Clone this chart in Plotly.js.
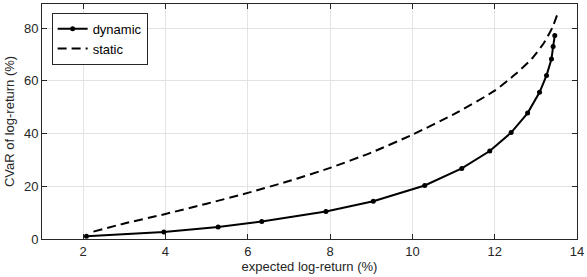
<!DOCTYPE html>
<html>
<head>
<meta charset="utf-8">
<script src="https://cdn.plot.ly/plotly-3.0.1.min.js"></script>
<style>
  body { margin: 0; background: #fff; }
  #plot { width: 587px; height: 277px; }
</style>
</head>
<body>
<div id="plot"></div>
<script>
// dynamic strategy (frontier points)
var dynamicX = [2.08, 3.96, 5.28, 6.34, 7.90, 9.05, 10.30, 11.20, 11.88, 12.40, 12.80, 13.09, 13.26, 13.38, 13.42, 13.46];
var dynamicY = [1.0, 2.65, 4.55, 6.6, 10.4, 14.3, 20.3, 26.8, 33.4, 40.4, 47.8, 55.7, 62.1, 68.3, 73.1, 77.2];

// static strategy
var staticX = [2.25, 3, 4, 5, 6, 7, 8, 9, 10, 11, 12, 12.5, 12.9, 13.2, 13.4, 13.55];
var staticY = [2.8, 5.9, 9.5, 13.4, 17.5, 22.0, 27.0, 32.8, 39.6, 47.3, 56.3, 62.5, 68.4, 74.5, 80.2, 86.5];

var xTicks = [2, 4, 6, 8, 10, 12, 14];
var yTicks = [0, 20, 40, 60, 80];

var axisColor = '#262626';
var gridColor = '#e3e3e3';

var trace1 = {
    x: dynamicX,
    y: dynamicY,
    type: 'scatter',
    mode: 'lines+markers',
    line: { color: '#000', width: 2 },
    marker: { color: '#000', size: 5 },
    name: 'dynamic'
};
var trace2 = {
    x: staticX,
    y: staticY,
    type: 'scatter',
    mode: 'lines',
    line: { color: '#000', width: 2, dash: '9px,5px', shape: 'spline', smoothing: 0.6 },
    name: 'static'
};

var layout = {
    width: 587,
    height: 277,
    margin: { l: 42, r: 10, t: 4, b: 38 },
    paper_bgcolor: '#fff',
    plot_bgcolor: '#fff',
    font: { family: 'Liberation Sans, Arial, sans-serif', size: 13, color: axisColor },
    showlegend: true,
    legend: {
        x: 0.018, y: 0.963, xanchor: 'left', yanchor: 'top',
        bgcolor: '#fff', bordercolor: axisColor, borderwidth: 1,
        font: { size: 13, color: '#000' },
        itemwidth: 30,
        tracegroupgap: 0
    },
    xaxis: {
        range: [1, 14],
        tickvals: xTicks,
        ticks: 'inside', ticklen: 5, tickcolor: axisColor,
        showline: true, linecolor: axisColor, linewidth: 1, mirror: 'ticks',
        showgrid: true, gridcolor: gridColor, gridwidth: 1,
        zeroline: false,
        title: { text: 'expected log-return (%)', font: { size: 13 }, standoff: 3 }
    },
    yaxis: {
        range: [0, 89.2],
        tickvals: yTicks,
        ticks: 'inside', ticklen: 5, tickcolor: axisColor,
        showline: true, linecolor: axisColor, linewidth: 1, mirror: 'ticks',
        showgrid: true, gridcolor: gridColor, gridwidth: 1,
        zeroline: false,
        title: { text: 'CVaR of log-return (%)', font: { size: 13 }, standoff: 6 }
    }
};

Plotly.newPlot('plot', [trace1, trace2], layout, { displayModeBar: false, staticPlot: true });
</script>
</body>
</html>
